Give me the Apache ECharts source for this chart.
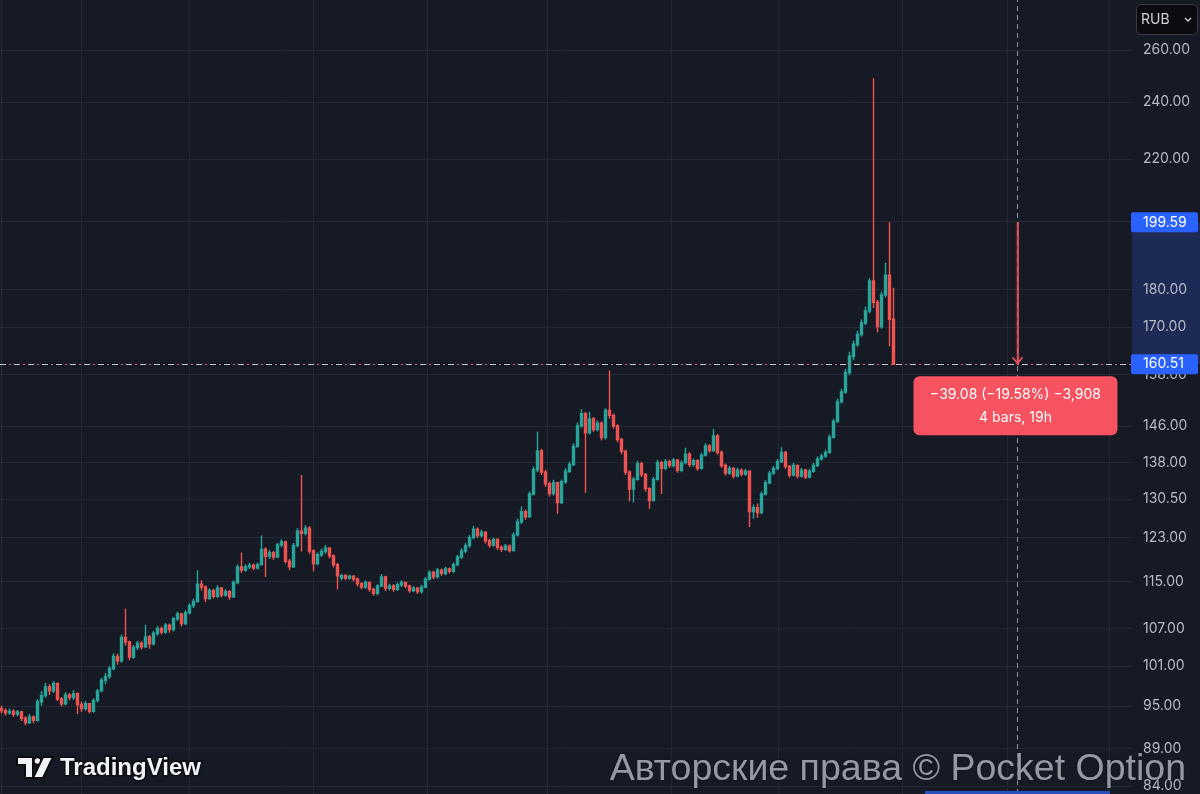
<!DOCTYPE html>
<html><head><meta charset="utf-8">
<script src="https://cdn.jsdelivr.net/npm/echarts@6/dist/echarts.min.js"></script>
<style>html,body{margin:0;padding:0;background:#161a25;}#c{width:1200px;height:794px;}</style>
</head><body><div id="c"></div>
<script>
// ---- data ----
const currency = 'RUB';
const priceTicks = [84, 89, 95, 101, 107, 115, 123, 130.5, 138, 146, 158, 170, 180, 200, 220, 240, 260];
const timeGridX = [20, 47, 78, 106.5, 136.5, 167.5, 194.25, 225.25, 251.5, 277];
// [open, close, low, high]
const ohlc = [
[94.6,94.3,93.9,95.0],[94.3,94.0,93.6,94.6],[94.0,94.2,93.7,94.6],[94.2,93.8,93.4,94.5],[93.8,94.1,93.5,94.4],
[94.1,93.2,92.8,94.3],[93.2,92.6,92.2,93.5],[92.6,93.4,92.4,93.8],[93.4,92.9,92.5,93.6],[92.9,95.6,92.7,96.0],
[95.6,96.5,95.0,97.2],[96.5,97.8,96.2,98.4],[97.8,97.2,96.6,98.2],[97.2,98.3,96.9,98.7],[98.3,96.0,95.7,98.5],
[96.0,95.3,94.9,96.3],[95.3,96.6,95.1,97.0],[96.6,96.2,95.8,96.9],[96.2,96.8,95.9,97.3],[96.8,95.2,93.8,97.0],
[95.2,94.6,94.1,95.6],[94.6,95.3,94.3,95.7],[95.3,94.2,93.9,95.4],[94.2,95.8,94.0,96.1],[95.8,97.2,95.5,97.5],
[97.2,98.8,97.0,99.2],[98.8,99.4,98.2,99.9],[99.4,100.6,99.0,101.0],[100.6,102.5,100.3,103.0],[102.5,101.8,101.2,102.9],
[101.8,105.5,101.5,106.0],[105.5,104.8,104.2,110.3],[104.8,102.4,101.9,105.0],[102.4,103.9,102.1,104.3],[103.9,104.6,103.5,105.0],
[104.6,104.0,103.6,104.9],[104.0,105.6,103.8,107.6],[105.6,104.5,103.7,105.9],[104.5,106.2,104.2,106.6],[106.2,107.0,105.8,107.4],
[107.0,106.4,106.0,107.3],[106.4,107.5,106.1,107.9],[107.5,106.8,106.3,107.8],[106.8,108.6,106.5,108.9],[108.6,109.4,108.2,109.8],
[109.4,107.8,107.3,109.6],[107.8,109.6,107.5,110.0],[109.6,110.8,109.3,111.2],[110.8,111.5,110.4,112.0],[111.5,114.5,111.3,117.0],
[114.5,114.0,113.4,115.2],[114.0,112.0,111.4,114.3],[112.0,113.4,111.8,113.8],[113.4,112.4,112.0,113.7],[112.4,113.8,112.1,114.3],
[113.8,112.6,112.2,114.0],[112.6,113.2,112.3,113.6],[113.2,112.3,111.8,113.5],[112.3,114.8,112.1,115.2],[114.8,117.6,114.5,118.0],
[117.6,117.0,116.5,120.2],[117.0,117.6,116.7,118.0],[117.6,117.9,117.2,118.3],[117.9,117.4,117.0,118.2],[117.4,118.0,117.1,118.4],
[118.0,120.8,117.8,123.4],[120.8,119.5,115.8,121.2],[119.5,120.2,119.0,120.7],[120.2,119.4,118.9,120.5],[119.4,121.6,119.2,122.0],
[121.6,122.2,121.2,122.7],[122.2,118.6,118.2,122.4],[118.6,117.6,117.0,119.0],[117.6,121.5,117.4,122.0],[121.5,124.2,121.2,124.8],
[124.2,123.8,120.4,135.4],[123.8,124.8,123.4,125.4],[124.8,120.5,120.0,125.2],[120.5,118.2,116.8,120.8],[118.2,119.8,117.9,120.2],
[119.8,120.4,119.4,120.9],[120.4,121.0,120.0,121.6],[121.0,119.6,119.1,121.3],[119.6,118.0,117.5,119.9],[118.0,116.0,113.6,118.3],
[115.6,116.0,115.2,116.4],[116.0,115.6,115.2,116.3],[115.6,115.9,115.3,116.2],[115.9,115.4,115.0,116.1],[115.4,114.6,114.1,115.7],
[114.6,114.0,113.6,114.9],[114.0,114.8,113.7,115.2],[114.8,113.6,113.2,115.0],[113.6,112.9,112.5,113.9],[112.9,114.2,112.6,114.5],
[114.2,115.8,114.0,116.3],[115.8,113.8,113.3,116.0],[113.8,114.2,113.4,114.6],[114.2,113.6,113.2,114.5],[113.6,114.4,113.3,114.8],
[114.4,114.8,114.0,115.2],[114.8,114.2,113.8,115.0],[114.2,113.4,113.0,114.4],[113.4,113.8,113.1,114.2],[113.8,113.2,112.8,114.0],
[113.2,114.0,112.9,114.4],[114.0,115.4,113.8,115.8],[115.4,116.6,115.1,117.0],[116.6,115.8,115.4,116.9],[115.8,117.0,115.5,117.4],
[117.0,116.4,116.0,117.3],[116.4,117.2,116.1,117.6],[117.2,116.8,116.4,117.5],[116.8,118.0,116.5,118.4],[118.0,119.4,117.7,119.8],
[119.4,120.5,119.0,121.0],[120.5,121.5,120.1,122.0],[121.5,123.0,121.1,123.5],[123.0,124.6,122.7,125.2],[124.6,123.4,122.9,124.9],
[123.4,124.0,123.0,124.5],[124.0,122.4,121.9,124.2],[122.4,121.6,121.1,122.8],[121.6,122.6,121.3,123.0],[122.6,121.2,120.7,122.9],
[121.2,120.8,120.3,121.5],[120.8,121.4,120.5,121.8],[121.4,120.6,120.2,121.7],[120.6,123.5,120.4,124.0],[123.5,126.0,123.2,126.6],
[126.0,128.0,125.6,129.0],[128.0,127.0,126.4,128.4],[127.0,131.5,126.8,132.0],[131.5,136.5,131.2,137.2],[136.5,140.5,136.0,144.7],
[140.5,136.0,135.4,141.0],[136.0,133.6,133.0,136.5],[133.6,131.6,131.0,134.0],[131.6,133.8,131.2,134.4],[133.8,129.8,127.6,134.0],
[129.8,134.0,129.5,134.5],[134.0,136.2,133.6,136.8],[136.2,137.6,135.8,138.2],[137.6,141.5,137.3,142.2],[141.5,146.0,141.2,146.8],
[146.0,148.8,145.6,149.8],[148.8,144.5,131.7,149.2],[144.5,147.6,144.1,149.2],[147.6,145.2,144.7,148.0],[145.2,146.6,144.8,147.2],
[146.6,143.4,142.8,147.0],[143.4,149.5,143.0,150.0],[149.5,148.4,147.6,159.0],[148.4,146.0,145.4,148.8],[146.0,143.0,142.4,146.4],
[143.0,140.4,139.8,143.4],[140.4,136.0,135.4,140.8],[136.0,132.5,130.0,136.4],[132.5,134.5,129.8,135.0],[134.5,137.8,134.2,138.4],
[137.8,135.5,135.0,138.2],[135.5,132.6,132.0,135.8],[132.6,130.2,128.5,132.9],[130.2,134.5,130.0,135.0],[134.5,138.0,134.2,138.6],
[138.0,136.8,131.5,138.4],[136.8,138.2,136.4,138.8],[138.2,137.4,136.9,138.6],[137.4,138.5,137.0,139.0],[138.5,136.4,135.9,138.8],
[136.4,138.0,136.0,138.5],[138.0,139.8,137.6,141.2],[139.8,137.6,137.1,140.2],[137.6,138.4,137.2,138.9],[138.4,136.8,136.3,138.7],
[136.8,139.6,136.5,140.1],[139.6,141.6,139.3,142.2],[141.6,140.6,140.1,142.0],[140.6,143.8,140.3,145.3],[143.8,140.2,139.7,144.2],
[140.2,137.4,136.9,140.6],[137.4,135.8,135.3,137.8],[135.8,136.8,135.4,137.3],[136.8,135.2,134.7,137.1],[135.2,136.4,134.9,136.9],
[136.4,135.6,135.1,136.8],[135.6,136.2,135.2,136.7],[136.2,128.0,125.0,136.4],[128.0,128.8,126.6,129.4],[128.8,127.8,126.8,129.6],
[127.8,131.5,127.5,132.0],[131.5,133.8,131.2,134.3],[133.8,135.8,133.5,136.3],[135.8,136.8,135.4,137.3],[136.8,138.2,136.4,138.8],
[138.2,140.2,137.9,141.3],[140.2,137.2,136.7,140.5],[137.2,135.4,134.9,137.5],[135.4,137.4,135.1,137.9],[137.4,135.2,134.7,137.6],
[135.2,136.4,134.9,136.9],[136.4,135.0,134.6,136.7],[135.0,136.2,134.7,136.7],[136.2,137.4,135.9,137.9],[137.4,138.8,137.1,139.3],
[138.8,139.4,138.4,139.9],[139.4,140.2,139.0,140.8],[140.2,143.5,139.9,144.1],[143.5,147.0,143.2,147.6],[147.0,151.5,146.7,152.2],
[151.5,153.8,151.1,154.6],[153.8,158.5,153.4,159.4],[158.5,162.5,157.8,163.6],[162.5,165.5,161.5,166.4],[165.5,168.0,164.8,169.0],
[168.0,171.0,167.4,172.0],[171.0,174.2,170.4,175.4],[174.2,182.4,173.6,183.2],[182.4,176.5,175.0,249.0],[176.5,170.0,168.6,177.2],
[170.0,178.5,169.5,179.5],[178.5,184.0,177.8,187.6],[184.0,172.0,165.0,199.59],[172.0,160.51,160.3,180.5]
];
// measurement annotation (price range tool)
const measureFrom = 199.59;
const measureTo = 160.51;
const measureBars = 4;
const measureSpan = '19h';
const measureX = 254;

// ---- chart ----
const UP = '#26a69a', DOWN = '#ef5350', BG = '#161a25', GRID = '#232733';
const FONT = 'Inter, Roboto, sans-serif';
const chart = echarts.init(document.getElementById('c'), null, {renderer: 'canvas'});
const seriesData = ohlc.map((d, i) => [i, d[0], d[1], d[2], d[3]]);

chart.setOption({
  backgroundColor: BG,
  animation: false,
  grid: {left: 0, right: 69, top: 0, bottom: 0, containLabel: false},
  xAxis: {
    type: 'value', min: -0.375, max: 282.375,
    axisLine: {show: false},
    axisLabel: {show: false},
    axisTick: {show: false, customValues: timeGridX},
    splitLine: {show: true, lineStyle: {color: GRID, width: 1}}
  },
  yAxis: {
    type: 'log', logBase: 10, min: 82.97, max: 280.8, position: 'right',
    axisLine: {show: true, lineStyle: {color: '#2a2e39'}},
    axisTick: {show: false, customValues: priceTicks},
    axisLabel: {
      customValues: priceTicks, margin: 12, color: '#b7bac2', fontSize: 14,
      fontFamily: FONT,
      formatter: v => Number(v).toFixed(2)
    },
    splitLine: {show: true, lineStyle: {color: GRID, width: 1}}
  },
  series: [{
    type: 'candlestick',
    data: seriesData,
    barWidth: 2.5,
    clip: true,
    itemStyle: {color: UP, color0: DOWN, borderColor: UP, borderColor0: DOWN, borderWidth: 1.4},
    markArea: {
      silent: true,
      itemStyle: {color: 'rgba(247,82,95,0.22)'},
      data: [[{coord: [measureX - 0.45, measureFrom]}, {coord: [measureX + 0.45, measureTo]}]]
    },
    markLine: {
      silent: true, symbol: ['none', 'none'], label: {show: false}, animation: false,
      data: [
        {xAxis: measureX, lineStyle: {color: '#8f929b', type: [5, 4], width: 1}},
        {yAxis: measureTo, lineStyle: {color: '#c4c5cc', type: [6, 8], width: 1}},
        {yAxis: measureTo, lineStyle: {color: '#f05a66', type: [2, 12], dashOffset: -9, width: 1}},
        [{coord: [measureX, measureFrom], lineStyle: {color: '#f7525f', width: 1.5, type: 'solid'}},
         {coord: [measureX, measureTo]}]
      ]
    }
  }]
});

const px = v => chart.convertToPixel({xAxisIndex: 0}, v);
const py = v => chart.convertToPixel({yAxisIndex: 0}, v);
const yTop = py(measureFrom), yBot = py(measureTo), xm = px(measureX);
const axisX = 1131;
const diff = measureTo - measureFrom;
const pct = diff / measureFrom * 100;
const fmtNeg = s => s.replace('-', '\u2212');
const ticksNum = Math.round(diff * 100);
const line1 = fmtNeg(diff.toFixed(2)) + ' (' + fmtNeg(pct.toFixed(2)) + '%) ' + fmtNeg(ticksNum.toLocaleString('en-US'));
const line2 = measureBars + ' bars, ' + measureSpan;

function priceTag(value, y) {
  return [
    {type: 'rect', z: 100, shape: {x: axisX, y: y - 10, width: 67, height: 20, r: 2}, style: {fill: '#2962ff'}},
    {type: 'text', z: 101, x: 1143, y: y, style: {text: value.toFixed(2), fill: '#ffffff', font: '14px ' + FONT, textVerticalAlign: 'middle', textAlign: 'left'}}
  ];
}

chart.setOption({
  graphic: [
    // highlighted price range on the axis
    {type: 'rect', z: -1, shape: {x: axisX + 1, y: yTop, width: 69, height: yBot - yTop}, style: {fill: '#1c2a55'}},
    ...priceTag(measureFrom, yTop),
    ...priceTag(measureTo, yBot),
    // arrow head of measure
    {type: 'polyline', z: 90, shape: {points: [[xm - 5, yBot - 7], [xm, yBot - 1], [xm + 5, yBot - 7]]}, style: {stroke: '#f7525f', lineWidth: 1.5, fill: null}},
    // measure info box
    {type: 'rect', z: 100, shape: {x: xm - 104, y: yBot + 12, width: 204, height: 59, r: 6}, style: {fill: '#f7525f'}},
    {type: 'text', z: 101, x: xm - 2, y: yBot + 31, style: {text: line1, fill: '#ffffff', font: '14px ' + FONT, textAlign: 'center', textVerticalAlign: 'middle'}},
    {type: 'text', z: 101, x: xm - 2, y: yBot + 54, style: {text: line2, fill: '#ffffff', font: '14px ' + FONT, textAlign: 'center', textVerticalAlign: 'middle'}},
    // currency button
    {type: 'rect', z: 100, shape: {x: 1136.5, y: 4.5, width: 61, height: 30, r: 5}, style: {fill: '#0b0c0f', stroke: '#3a3d47', lineWidth: 1}},
    {type: 'text', z: 101, x: 1141, y: 20, style: {text: currency, fill: '#d1d4dc', font: '14px ' + FONT, textVerticalAlign: 'middle'}},
    {type: 'polyline', z: 101, shape: {points: [[1185, 18], [1188, 21], [1191, 18]]}, style: {stroke: '#d1d4dc', lineWidth: 1.3, fill: null}},
    // bottom time-range highlight
    {type: 'rect', z: 5, shape: {x: 925, y: 791, width: 185, height: 3}, style: {fill: '#2a4fbf'}},
    // TradingView logo
    {type: 'polygon', z: 110, shape: {points: [[17, 757], [33, 757], [33, 778], [25, 778], [25, 765], [17, 765]]}, style: {fill: '#f0f3fa', stroke: '#0b0c10', lineWidth: 2}},
    {type: 'circle', z: 110, shape: {cx: 37.5, cy: 761, r: 3.8}, style: {fill: '#f0f3fa', stroke: '#0b0c10', lineWidth: 2}},
    {type: 'polygon', z: 110, shape: {points: [[43, 757], [53, 757], [43, 778], [33, 778]]}, style: {fill: '#f0f3fa', stroke: '#0b0c10', lineWidth: 2}},
    {type: 'text', z: 110, x: 60, y: 768, style: {text: 'TradingView', fill: '#f0f3fa', stroke: '#0b0c10', lineWidth: 3, font: 'bold 24px "Liberation Sans", Arial, sans-serif', textVerticalAlign: 'middle'}},
    // watermark
    {type: 'text', z: 120, x: 1186, y: 770, style: {text: 'Авторские права © Pocket Option', fill: 'rgba(168,171,179,0.88)', stroke: 'rgba(20,22,30,0.5)', lineWidth: 2, font: '37.5px "Liberation Sans", Arial, sans-serif', textAlign: 'right', textVerticalAlign: 'middle'}}
  ]
});
</script>
</body></html>
